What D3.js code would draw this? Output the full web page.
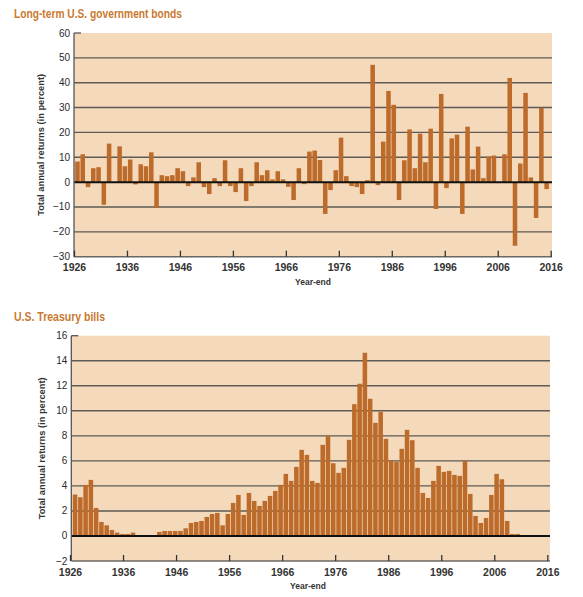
<!DOCTYPE html>
<html>
<head>
<meta charset="utf-8">
<style>
  body { margin: 0; background: #fff; }
  svg { display: block; font-family: "Liberation Sans", Arial, sans-serif; }
</style>
</head>
<body>
<svg id="chart" width="583" height="597"></svg>
<script src="https://cdn.jsdelivr.net/npm/d3@7"></script>
<script>

// years 1926..2015, one bar each
const years = d3.range(1926, 2016)
const yearTicks = [1926, 1936, 1946, 1956, 1966, 1976, 1986, 1996, 2006, 2016]

// long-term government bonds, annual total return (%)
const bondReturns = [
  8.3, 11.2, -2.0, 5.6, 6.0, -9.1, 15.5, -0.2, 14.4, 6.4,      // 1926-35
  9.1, -0.9, 7.2, 6.4, 12.0, -10.4, 2.8, 2.4, 2.8, 5.6,        // 1936-45
  4.4, -1.6, 1.9, 8.0, -2.0, -4.8, 1.6, -1.6, 8.8, -1.6,       // 1946-55
  -4.0, 5.6, -7.6, -1.6, 8.0, 2.8, 4.8, 1.1, 4.4, 1.1,         // 1956-65
  -1.9, -7.2, 5.6, -0.8, 12.3, 12.7, 8.9, -12.8, -3.2, 4.8,    // 1966-75
  17.9, 2.4, -1.6, -2.0, -4.8, 0.8, 47.2, -1.2, 16.3, 36.7,    // 1976-85
  31.1, -7.2, 8.8, 21.2, 5.6, 19.5, 8.0, 21.5, -10.8, 35.5,    // 1986-95
  -2.4, 17.6, 19.1, -12.8, 22.3, 5.1, 14.3, 1.6, 10.3, 10.7,   // 1996-2005
  0.1, 11.2, 41.9, -25.6, 7.5, 35.9, 1.9, -14.4, 29.9, -2.8    // 2006-15
]
const bondTicks = [60, 50, 40, 30, 20, 10, 0, -10, -20, -30]

// treasury bills, annual total return (%)
const billReturns = [
  3.31, 3.09, 4.08, 4.48, 2.24, 1.12, 0.85, 0.48, 0.27, 0.16,  // 1926-35
  0.16, 0.27, 0.0, 0.02, 0.0, 0.06, 0.32, 0.40, 0.40, 0.40,    // 1936-45
  0.40, 0.61, 1.04, 1.12, 1.20, 1.52, 1.76, 1.84, 0.85, 1.76,  // 1946-55
  2.64, 3.28, 1.68, 3.44, 2.80, 2.40, 2.80, 3.20, 3.60, 4.08,  // 1956-65
  4.96, 4.40, 5.52, 6.88, 6.48, 4.40, 4.24, 7.28, 8.00, 5.81,  // 1966-75
  5.04, 5.44, 7.68, 10.53, 12.16, 14.64, 10.96, 9.04, 9.92, 7.76, // 1976-85
  6.03, 5.92, 6.96, 8.48, 7.65, 5.44, 3.44, 3.04, 4.40, 5.60,  // 1986-95
  5.12, 5.20, 4.88, 4.80, 6.00, 3.36, 1.60, 1.04, 1.44, 3.28,  // 1996-2005
  4.96, 4.53, 1.20, 0.16, 0.16, 0.04, 0.06, 0.02, 0.02, 0.02   // 2006-15
]
const billTicks = [16, 14, 12, 10, 8, 6, 4, 2, 0, -2]

const bgColor = '#f4d9bb'
const barColor = '#bd6b2a'
const titleColor = '#c9792f'

const svg = d3.select('#chart')

function fmt(v) { return v < 0 ? '\u2212' + Math.abs(v) : String(v) }

function panel(opts) {
  const g = svg.append('g')

  // panel title
  g.append('text')
    .attr('x', 14).attr('y', opts.titleY)
    .attr('fill', titleColor)
    .attr('font-size', 12).attr('font-weight', 'bold')
    .attr('textLength', opts.titleLen).attr('lengthAdjust', 'spacingAndGlyphs')
    .text(opts.title)

  const y = d3.scaleLinear().domain(opts.yDomain).range([opts.bottom, opts.top])
  const xt = d3.scaleLinear().domain([1926, 2016]).range(opts.tickRange)
  const xb = d3.scaleBand().domain(years).range(opts.barRange).paddingInner(0.14)

  g.append('rect')
    .attr('x', opts.left).attr('y', opts.top)
    .attr('width', opts.right - opts.left).attr('height', opts.bottom - opts.top)
    .attr('fill', bgColor)

  // grid lines
  g.append('g')
    .selectAll('line')
    .data(opts.yTicks.filter(d => d !== 0 && d !== opts.yDomain[0] && d !== opts.yDomain[1]))
    .enter()
    .append('line')
      .attr('x1', opts.left).attr('x2', opts.right)
      .attr('y1', d => y(d)).attr('y2', d => y(d))
      .attr('stroke', '#5e5a55').attr('stroke-width', 1.4)

  // bars
  g.append('g')
    .selectAll('rect')
    .data(opts.values)
    .enter()
    .append('rect')
      .attr('x', (d, i) => xb(years[i]))
      .attr('width', xb.bandwidth())
      .attr('y', d => y(Math.max(0, d)))
      .attr('height', d => Math.abs(y(d) - y(0)))
      .attr('fill', barColor)

  // zero line
  g.append('line')
    .attr('x1', opts.left).attr('x2', opts.right)
    .attr('y1', y(0)).attr('y2', y(0))
    .attr('stroke', '#111').attr('stroke-width', 2)

  // axes lines
  g.append('line')
    .attr('x1', opts.left).attr('x2', opts.left)
    .attr('y1', opts.top).attr('y2', opts.bottom)
    .attr('stroke', '#555').attr('stroke-width', 1.3)
  g.append('line')
    .attr('x1', opts.left).attr('x2', opts.left + 7)
    .attr('y1', opts.top).attr('y2', opts.top)
    .attr('stroke', '#555').attr('stroke-width', 1.3)
  g.append('line')
    .attr('x1', opts.left).attr('x2', opts.right)
    .attr('y1', opts.bottom).attr('y2', opts.bottom)
    .attr('stroke', '#6b6762').attr('stroke-width', 1.6)

  // y tick labels
  g.append('g')
    .selectAll('text')
    .data(opts.yTicks)
    .enter()
    .append('text')
      .attr('x', opts.left - 4)
      .attr('y', d => y(d) + 3.5)
      .attr('text-anchor', 'end')
      .attr('font-size', 10)
      .attr('fill', '#2a2a2a')
      .text(fmt)

  // x ticks
  const xAxis = d3.axisBottom(xt).tickValues(yearTicks).tickFormat(d3.format('d')).tickSize(0).tickPadding(0)
  const ax = g.append('g').attr('transform', 'translate(0,' + opts.bottom + ')').call(xAxis)
  ax.select('.domain').remove()
  ax.selectAll('.tick line').attr('y1', -6).attr('y2', 0).attr('stroke', '#333').attr('stroke-width', 1.3)
  ax.selectAll('.tick text')
    .attr('y', 14.5).attr('dy', null)
    .attr('font-family', 'Liberation Sans, Arial, sans-serif')
    .attr('font-size', 10.5).attr('font-weight', 'bold').attr('fill', '#333')

  // axis titles
  g.append('text')
    .attr('transform', 'translate(' + opts.yLabelX + ',' + ((opts.top + opts.bottom) / 2) + ') rotate(-90)')
    .attr('text-anchor', 'middle')
    .attr('font-size', 8.5).attr('font-weight', 'bold').attr('fill', '#333')
    .attr('textLength', 142).attr('lengthAdjust', 'spacingAndGlyphs')
    .text('Total annual returns (in percent)')
  g.append('text')
    .attr('x', opts.xLabelX).attr('y', opts.bottom + 28)
    .attr('text-anchor', 'middle')
    .attr('font-size', 8.5).attr('font-weight', 'bold').attr('fill', '#333')
    .text('Year-end')
}

panel({
  title: 'Long-term U.S. government bonds', titleY: 18, titleLen: 168,
  values: bondReturns, yDomain: [-30, 60], yTicks: bondTicks,
  left: 74, right: 552, top: 33, bottom: 256.7,
  tickRange: [74, 550.7], barRange: [75.2, 548.9],
  yLabelX: 44, xLabelX: 313
})

panel({
  title: 'U.S. Treasury bills', titleY: 320.5, titleLen: 91,
  values: billReturns, yDomain: [-2, 16], yTicks: billTicks,
  left: 71.3, right: 550, top: 335.7, bottom: 561,
  tickRange: [70, 547.3], barRange: [72.8, 546.3],
  yLabelX: 45, xLabelX: 308
})

</script>
</body>
</html>
